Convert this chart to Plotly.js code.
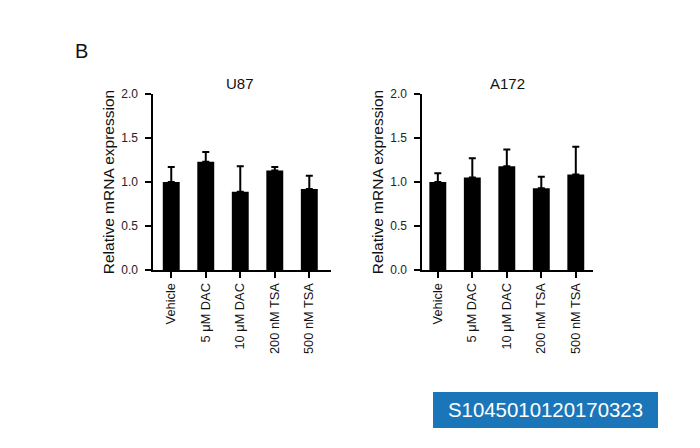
<!DOCTYPE html>
<html>
<head>
<meta charset="utf-8">
<script src="https://cdn.plot.ly/plotly-3.0.1.min.js"></script>
<style>html,body{margin:0;padding:0;background:#fff;}#chart{width:700px;height:448px;}</style>
</head>
<body>
<div id="chart"></div>
<script>
const categories = ["Vehicle", "5 μM DAC", "10 μM DAC", "200 nM TSA", "500 nM TSA"];
const u87Values = [1.00, 1.23, 0.89, 1.13, 0.92];
const u87ErrUp = [0.17, 0.11, 0.29, 0.04, 0.15];
const a172Values = [1.00, 1.05, 1.18, 0.93, 1.085];
const a172ErrUp = [0.10, 0.22, 0.19, 0.13, 0.315];
const panelTitles = ["U87", "A172"];
const yTitle = "Relative mRNA expression";
const yTicks = [0, 0.5, 1.0, 1.5, 2.0];
const yTickText = ["0.0", "0.5", "1.0", "1.5", "2.0"];
const panelLabel = "B";
const stampText = "S1045010120170323";

const zeros = n => new Array(n).fill(0);
function barTrace(vals, errs, xa, ya) {
  return {
    type: "bar", x: categories, y: vals, xaxis: xa, yaxis: ya,
    width: 0.49,
    marker: {color: "#000000", line: {width: 0}},
    error_y: {type: "data", symmetric: false, array: errs, arrayminus: zeros(errs.length),
              color: "#000000", thickness: 2, width: 3.5},
    showlegend: false, hoverinfo: "none"
  };
}
const font = {family: "Liberation Sans, Arial, sans-serif", color: "#111"};
function xAx(domain, range, anchor) {
  return {domain: domain, range: range, anchor: anchor, type: "category",
    showline: true, linecolor: "#000", linewidth: 2, ticks: "outside", ticklen: 6,
    tickwidth: 2, tickcolor: "#000", tickangle: -90, showgrid: false, zeroline: false,
    tickfont: {family: font.family, size: 12.8, color: "#111"}, fixedrange: true};
}
function yAx(domain, anchor) {
  return {domain: domain, range: [0, 2], anchor: anchor, tickvals: yTicks, ticktext: yTickText,
    showline: true, linecolor: "#000", linewidth: 2, ticks: "outside", ticklen: 6,
    tickwidth: 2, tickcolor: "#000", showgrid: false, zeroline: false,
    ticklabelstandoff: 5,
    tickfont: {family: font.family, size: 12, color: "#222"},
    title: {text: yTitle, font: {family: font.family, size: 15.5, color: "#111"}, standoff: 3},
    fixedrange: true};
}
const yDom = [1 - 270/448, 1 - 94/448];
const layout = {
  width: 700, height: 448,
  margin: {l: 0, r: 0, t: 0, b: 0},
  paper_bgcolor: "#ffffff", plot_bgcolor: "rgba(0,0,0,0)",
  font: font,
  xaxis: xAx([153.3/700, 330.7/700], [-0.52, 4.62], "y"),
  yaxis: yAx(yDom, "x"),
  xaxis2: xAx([422.3/700, 592.7/700], [-0.45, 4.49], "y2"),
  yaxis2: yAx(yDom, "x2"),
  shapes: [
    {type: "rect", xref: "paper", yref: "paper", x0: 433/700, x1: 658/700,
     y0: 1 - 428/448, y1: 1 - 392/448, fillcolor: "#1b76b9", line: {width: 0}, layer: "above"}
  ],
  annotations: [
    {text: panelTitles[0], xref: "paper", yref: "paper", x: 240/700, y: 1 - 83/448,
     showarrow: false, font: {family: font.family, size: 15, color: "#111"}, xanchor: "center", yanchor: "middle"},
    {text: panelTitles[1], xref: "paper", yref: "paper", x: 507/700, y: 1 - 83/448,
     showarrow: false, font: {family: font.family, size: 15, color: "#111"}, xanchor: "center", yanchor: "middle"},
    {text: panelLabel, xref: "paper", yref: "paper", x: 81.5/700, y: 1 - 51/448,
     showarrow: false, font: {family: font.family, size: 20, color: "#111"}, xanchor: "center", yanchor: "middle"},
    {text: stampText, xref: "paper", yref: "paper", x: 545/700, y: 1 - 410/448,
     showarrow: false, font: {family: font.family, size: 20.4, color: "#ffffff"}, xanchor: "center", yanchor: "middle"}
  ]
};
Plotly.newPlot("chart", [barTrace(u87Values, u87ErrUp, "x", "y"), barTrace(a172Values, a172ErrUp, "x2", "y2")],
  layout, {staticPlot: true, displayModeBar: false});
</script>
</body>
</html>
